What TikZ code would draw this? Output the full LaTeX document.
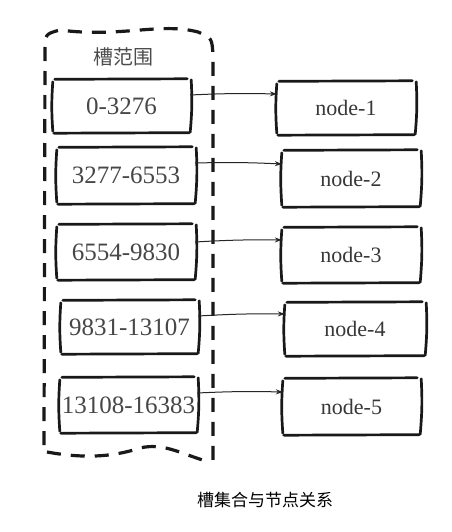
\documentclass[tikz,border=0pt]{standalone}
\usepackage{fontspec}
\setmainfont{Liberation Serif}
\newfontfamily\cjk{Noto Sans CJK SC}
\usetikzlibrary{arrows.meta}
\tikzset{
  x=1pt, y=-1pt,
  box/.style={inner sep=0pt, text=black!72, font=\fontsize{25}{27}\selectfont},
  nbox/.style={inner sep=0pt, text=black!78, font=\fontsize{22}{24}\selectfont},
  skl/.style={line width=2.7pt, line cap=round, black!90},
  arr/.style={line width=1pt, -{Stealth[length=7pt,width=5pt]}, black!85},
  cont/.style={line width=3.2pt, dash pattern=on 14pt off 10pt, black!90}
}
\newcommand\skbox[1]{%
  \draw[skl] ([xshift=2pt,yshift=-0.5pt]#1.north west) -- ([xshift=-3pt]#1.north east);
  \draw[skl] ([xshift=1pt]#1.south west) -- ([xshift=-1pt,yshift=0.5pt]#1.south east);
  \draw[skl] ([yshift=-3pt]#1.north west) to[bend right=4] ([yshift=2pt]#1.south west);
  \draw[skl] ([yshift=-1pt,xshift=1pt]#1.north east) to[bend left=4] ([yshift=1pt]#1.south east);
}
\begin{document}
\begin{tikzpicture}
\useasboundingbox[fill=white] (0,0) rectangle (451,532);
% container
\draw[cont] (44,445) -- (45,52) .. controls (45,34) .. (60,30)
  .. controls (120,38) and (160,22) .. (198,32)
  .. controls (212,38) .. (213,56) -- (213,462);
\draw[cont] (47,452) .. controls (80,458) and (110,458) .. (140,448)
  .. controls (165,442) and (185,456) .. (210,462);
\node[text=black!70, font=\cjk\fontsize{20}{22}\selectfont] (title) at (123,57) {槽范围};
% left boxes
\node[box, minimum width=137pt, minimum height=54pt] (L1) at (121.5,106) {0-3276};
\node[box, minimum width=138pt, minimum height=57pt] (L2) at (126,175.5) {3277-6553};
\node[box, minimum width=138pt, minimum height=56pt] (L3) at (126,252) {6554-9830};
\node[box, minimum width=137pt, minimum height=54pt] (L4) at (129.5,327) {9831-13107};
\node[box, minimum width=137pt, minimum height=56pt] (L5) at (128.5,405) {13108-16383};
% right boxes
\node[nbox, minimum width=138pt, minimum height=54pt] (R1) at (346,108) {node-1};
\node[nbox, minimum width=138pt, minimum height=57pt] (R2) at (351,178.5) {node-2};
\node[nbox, minimum width=138pt, minimum height=56pt] (R3) at (351,255) {node-3};
\node[nbox, minimum width=140pt, minimum height=54pt] (R4) at (355,329) {node-4};
\node[nbox, minimum width=137pt, minimum height=57pt] (R5) at (351.5,406.5) {node-5};
\skbox{L1}\skbox{L2}\skbox{L3}\skbox{L4}\skbox{L5}
\skbox{R1}\skbox{R2}\skbox{R3}\skbox{R4}\skbox{R5}
% arrows
\draw[arr] ([yshift=11pt]L1.east) to[bend left=2] ([yshift=14pt]R1.west);
\draw[arr] ([yshift=12.5pt]L2.east) to[bend left=2] ([yshift=14.5pt]R2.west);
\draw[arr] ([yshift=10pt]L3.east) to[bend left=2] ([yshift=15pt]R3.west);
\draw[arr] ([yshift=11pt]L4.east) to[bend left=2] ([yshift=15pt]R4.west);
\draw[arr] ([yshift=12pt]L5.east) to[bend left=2] ([yshift=14.5pt]R5.west);
% caption
\node[text=black, font=\cjk\fontsize{17}{19}\selectfont] (cap) at (265,500) {槽集合与节点关系};
\end{tikzpicture}
\end{document}
